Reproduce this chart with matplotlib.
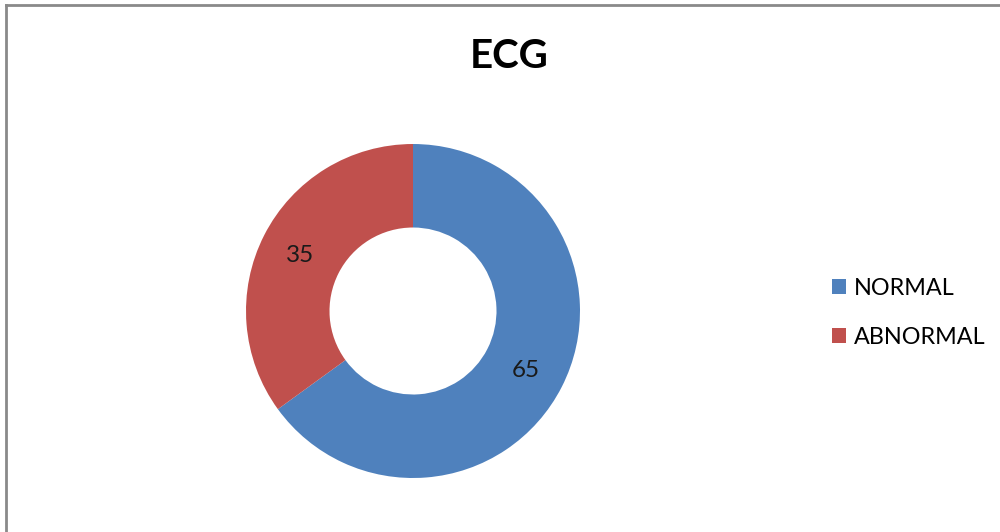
import matplotlib
matplotlib.use("Agg")
import matplotlib.pyplot as plt
from matplotlib.patches import Patch
from matplotlib.lines import Line2D

title = "ECG"
categories = ["NORMAL", "ABNORMAL"]
values = [65, 35]
colors = ["#4F81BD", "#C0504D"]

plt.rcParams["font.family"] = ["Lato", "DejaVu Sans"]

fig = plt.figure(figsize=(10, 5.32), dpi=100)
fig.patch.set_facecolor("white")

# frame lines along the top and left edges
fig.add_artist(Line2D([6 / 1000, 1.0], [1 - 5 / 532, 1 - 5 / 532],
                      transform=fig.transFigure, color="#8a8a8a", lw=2))
fig.add_artist(Line2D([6 / 1000, 6 / 1000], [0.0, 1 - 5 / 532],
                      transform=fig.transFigure, color="#8a8a8a", lw=2))

ax = fig.add_axes([0.246, 0.1015, 0.334, 0.6278])

wedges, texts = ax.pie(
    values,
    colors=colors,
    startangle=90,
    counterclock=False,
    radius=1.0,
    labels=[str(v) for v in values],
    labeldistance=0.76,
    wedgeprops=dict(width=0.5, edgecolor="none"),
    textprops=dict(fontsize=17.5, color="#1a1a1a"),
)
for t in texts:
    t.set_ha("center")
    t.set_va("center_baseline")
ax.set_xlim(-1, 1)
ax.set_ylim(-1, 1)
ax.axis("off")

fig.text(0.509, 1 - 57 / 532, title, ha="center", va="center",
         fontsize=29, fontweight="bold", color="black")

handles = [Patch(facecolor=c, edgecolor="none") for c in colors]
fig.legend(handles, categories, loc="center left",
           bbox_to_anchor=(0.811, 1 - 313 / 532), frameon=False,
           fontsize=16.8, handlelength=0.6, handleheight=0.6,
           handletextpad=0.35, labelspacing=1.2)

fig.savefig("out.png", dpi=100, facecolor="white")
